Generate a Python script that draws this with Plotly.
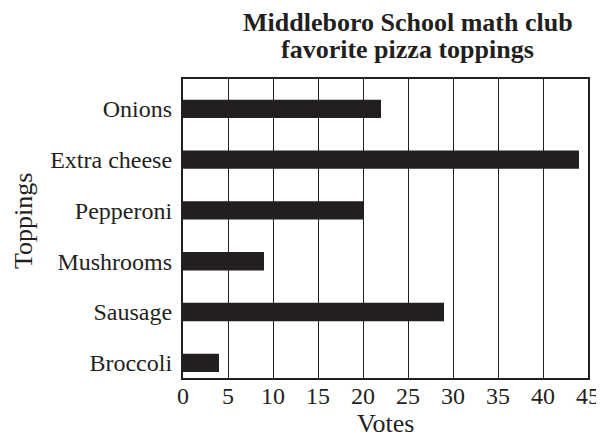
import plotly.graph_objects as go

toppings = ["Broccoli", "Sausage", "Mushrooms", "Pepperoni", "Extra cheese", "Onions"]
votes = [4, 29, 9, 20, 44, 22]
x_ticks = [0, 5, 10, 15, 20, 25, 30, 35, 40, 45]
title_lines = ["Middleboro School math club", "favorite pizza toppings"]

FONT = "Liberation Serif"
INK = "#231f20"

fig = go.Figure(
    go.Bar(
        y=toppings,
        x=votes,
        orientation="h",
        marker=dict(color=INK, line=dict(width=0)),
        width=0.36,
    )
)

# The page body adds an 8px margin, so the figure is sized/offset to compensate.
fig.update_layout(
    width=596,
    height=434,
    margin=dict(l=175, r=16, t=71, b=64),
    paper_bgcolor="white",
    plot_bgcolor="white",
    showlegend=False,
    font=dict(family=FONT, size=24, color=INK),
)

# Title lines
fig.add_annotation(text="<b>%s</b>" % title_lines[0], xref="paper", yref="paper",
                   x=0.555, y=1.19, xanchor="center", yanchor="middle", showarrow=False,
                   font=dict(family=FONT, size=26, color=INK))
fig.add_annotation(text="<b>%s</b>" % title_lines[1], xref="paper", yref="paper",
                   x=0.555, y=1.1, xanchor="center", yanchor="middle", showarrow=False,
                   font=dict(family=FONT, size=26, color=INK))
# Axis titles
fig.add_annotation(text="Votes", xref="paper", yref="paper",
                   x=0.5, y=-0.152, xanchor="center", yanchor="middle", showarrow=False,
                   font=dict(family=FONT, size=26, color=INK))
fig.add_annotation(text="Toppings", xref="paper", yref="paper", textangle=-90,
                   x=-0.395, y=0.525, xanchor="center", yanchor="middle", showarrow=False,
                   font=dict(family=FONT, size=26, color=INK))

fig.update_xaxes(
    range=[0, 45],
    tickvals=x_ticks,
    ticktext=[str(v) for v in x_ticks],
    showgrid=True,
    gridcolor=INK,
    gridwidth=1.2,
    showline=True,
    linecolor=INK,
    linewidth=2.2,
    mirror=True,
    ticks="",
    ticklen=0,
    zeroline=False,
    ticklabelstandoff=-5,
    automargin=False,
    tickfont=dict(family=FONT, size=24, color=INK),
)

fig.update_yaxes(
    categoryorder="array",
    categoryarray=toppings,
    range=[-0.3, 5.59],
    showgrid=False,
    showline=True,
    linecolor=INK,
    linewidth=2.2,
    mirror=True,
    ticks="",
    ticklen=0,
    zeroline=False,
    ticklabelstandoff=4,
    automargin=False,
    tickfont=dict(family=FONT, size=24, color=INK),
)

fig.write_html("out.html")
